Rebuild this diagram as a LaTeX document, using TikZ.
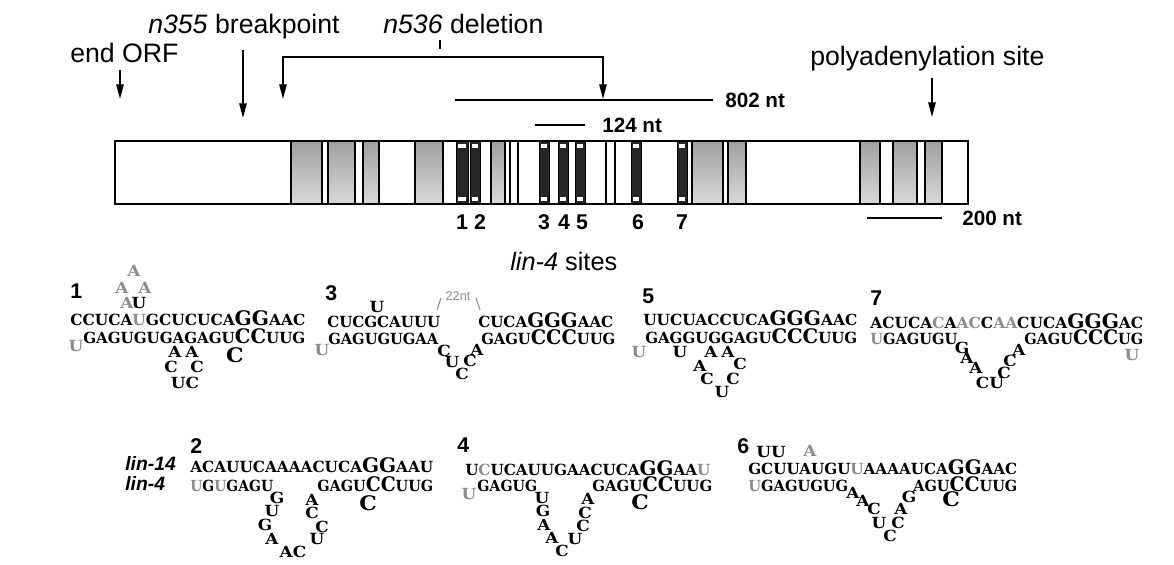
\documentclass[tikz,border=0pt]{standalone}
\usepackage{fontspec}
\usepackage{graphicx}
\setmainfont{Liberation Sans}
\newfontfamily\seqfont{DejaVu Serif}[FakeStretch=1.1]
\usetikzlibrary{arrows.meta}
\definecolor{seqgray}{gray}{0.55}
\newcommand\Lg[1]{{\fontsize{15}{15}\selectfont #1}}
\newcommand\gy[1]{\textcolor{seqgray}{#1}}
% fit a strand to a given width in px (1px = 0.75pt)
\newcommand\fw[2]{\resizebox{#1\dimexpr 0.75pt\relax}{\height}{#2}}
\tikzset{
  lbl/.style={inner sep=0, anchor=base west, font=\fontsize{20}{22}\selectfont},
  bnum/.style={inner sep=0, anchor=base, font=\bfseries\fontsize{16}{18}\selectfont},
  sitelbl/.style={inner sep=0, anchor=base west, font=\bfseries\fontsize{16}{18}\selectfont},
  ntlbl/.style={inner sep=0, anchor=base west, font=\bfseries\fontsize{15.5}{17}\selectfont},
  seq/.style={inner sep=0, anchor=base west, font=\seqfont\bfseries\fontsize{11.5}{13}\selectfont},
  lt/.style={inner sep=0, anchor=center, font=\seqfont\bfseries\fontsize{11.5}{13}\selectfont},
  bigc/.style={lt, font=\seqfont\bfseries\fontsize{15}{15}\selectfont},
  glt/.style={lt, text=seqgray},
  arr/.style={line width=1.3pt, -{Triangle[length=11pt,width=5.5pt]}},
  scalebar/.style={line width=1.6pt},
  shbox/.style={draw=black, line width=0.9pt, top color=gray!75, bottom color=gray!30},
  blbox/.style={draw=black, fill=black!85, line width=0.6pt},
  wmark/.style={fill=white, draw=none},
  thbox/.style={draw=black, fill=white, line width=0.9pt},
}
\begin{document}
\begin{tikzpicture}[x=0.75pt, y=-0.75pt]
\useasboundingbox[fill=white] (0,0) rectangle (1174,564);

% ---------- top labels ----------
\node[lbl] (endorf) at (70,62) {end ORF};
\node[lbl] (n355) at (148,33) {\textit{n355} breakpoint};
\node[lbl] (n536) at (383,33) {\textit{n536} deletion};
\node[lbl] (polya) at (810,65) {polyadenylation site};

\coordinate (eoA) at (120,70);  \coordinate (eoB) at (120,99);
\draw[arr] (eoA) -- (eoB);
\coordinate (bpA) at (243,50);  \coordinate (bpB) at (243,118);
\draw[arr] (bpA) -- (bpB);
\coordinate (paA) at (932,78);  \coordinate (paB) at (932,117);
\draw[arr] (paA) -- (paB);

\coordinate (dl) at (283,99); \coordinate (dm) at (440,57); \coordinate (dr) at (603,99);
\draw[line width=1.3pt, {Triangle[length=11pt,width=5.5pt]}-{Triangle[length=11pt,width=5.5pt]}] (dl) |- (dm) -| (dr);
\coordinate (tkA) at (440,40); \coordinate (tkB) at (440,49);
\draw[line width=1pt] (tkA) -- (tkB);

% scale lines
\coordinate (l802a) at (455,100); \coordinate (l802b) at (713,100);
\draw[scalebar] (l802a) -- (l802b);
\node[ntlbl] (t802) at (725,107) {802 nt};
\coordinate (l124a) at (535,125); \coordinate (l124b) at (585,125);
\draw[scalebar] (l124a) -- (l124b);
\node[ntlbl] (t124) at (602,132) {124 nt};
\coordinate (l200a) at (867,218); \coordinate (l200b) at (942,218);
\draw[scalebar] (l200a) -- (l200b);
\node[ntlbl] (t200) at (962,225) {200 nt};

% ---------- gene bar ----------
\path[fill=white] (115,141) rectangle (968,204);
\foreach \a/\b in {291/322,328/355,363/379,415/443,491/505,692/723,728/746,860/880,893/917,925/942}
  \path[shbox] (\a,141) rectangle (\b,204);
\foreach \a/\b in {510/518,606/615}
  \path[thbox] (\a,141) rectangle (\b,204);
\foreach \a/\b in {456/468,470/480,539/549,558/568,575/585,631/641,677/687}{
  \path[blbox] (\a,141) rectangle (\b,204);
  \path[wmark] (\a+2,144) rectangle (\b-2,148);
  \path[wmark] (\a+2,197) rectangle (\b-2,201);
}
\draw[line width=1.2pt] (115,141) rectangle (968,204);

\node[bnum] (k1) at (462,229) {1};
\node[bnum] (k2) at (480,229) {2};
\node[bnum] (k3) at (544,229) {3};
\node[bnum] (k4) at (564,229) {4};
\node[bnum] (k5) at (582,229) {5};
\node[bnum] (k6) at (638,229) {6};
\node[bnum] (k7) at (682,229) {7};

\node[lbl, font=\fontsize{19}{21}\selectfont] (sites) at (510,270) {\textit{lin-4} sites};

% ---------- site 1 ----------
\node[sitelbl] (s1) at (70,298) {1};
\node[glt] (s1a1) at (134,271) {A};
\node[glt] (s1a2) at (122,288) {A};
\node[glt] (s1a3) at (145,288) {A};
\node[glt] (s1a4) at (127,303) {A};
\node[lt] (s1u) at (139,303) {U};
\node[seq] (s1t) at (70,325) {\fw{235}{CCUCA\gy{U}GCUCUCA\Lg{GG}AAC}};
\node[glt] (s1gu) at (76,346) {U};
\node[seq] (s1b) at (83,343) {\fw{222}{GAGUGUGAGAGU\Lg{CC}UUG}};
\node[lt] (s1b1) at (175,352) {A};
\node[lt] (s1b2) at (192,352) {A};
\node[lt] (s1b3) at (171,367) {C};
\node[lt] (s1b4) at (197,367) {C};
\node[lt] (s1b5) at (185,383) {UC};
\node[bigc] (s1c) at (235,355) {C};

% ---------- site 3 ----------
\node[sitelbl] (s3) at (325,300) {3};
\node[lt] (s3u) at (377,307) {U};
\node[inner sep=0, text=seqgray, font=\fontsize{9.5}{10}\selectfont] (s3n) at (458,296) {22nt};
\coordinate (s3la) at (437,310); \coordinate (s3lb) at (441,298);
\coordinate (s3ra) at (476,298); \coordinate (s3rb) at (480,310);
\draw[seqgray, line width=0.8pt] (s3la) -- (s3lb);
\draw[seqgray, line width=0.8pt] (s3ra) -- (s3rb);
\node[seq] (s3t1) at (327,327) {\fw{113}{CUCGCAUUU}};
\node[seq] (s3t2) at (478,327) {\fw{135}{CUCA\Lg{GGG}AAC}};
\node[glt] (s3gu) at (322,350) {U};
\node[seq] (s3b1) at (328,344) {\fw{110}{GAGUGUGAA}};
\node[lt] (s3l1) at (444,351) {C};
\node[lt] (s3l2) at (452,362) {U};
\node[lt] (s3l3) at (462,374) {C};
\node[lt] (s3l4) at (470,361) {C};
\node[lt] (s3l5) at (477,350) {A};
\node[seq] (s3b2) at (481,344) {\fw{134}{GAGU\Lg{CCC}UUG}};

% ---------- site 5 ----------
\node[sitelbl] (s5) at (642,303) {5};
\node[seq] (s5t) at (643,325) {\fw{214}{UUCUACCUCA\Lg{GGG}AAC}};
\node[glt] (s5gu) at (639,352) {U};
\node[seq] (s5b) at (645,343) {\fw{212}{GAGGUGGAGU\Lg{CCC}UUG}};
\node[lt] (s5l1) at (680,352) {U};
\node[lt] (s5l2) at (711,352) {A};
\node[lt] (s5l3) at (728,352) {A};
\node[lt] (s5l4) at (700,366) {A};
\node[lt] (s5l5) at (740,364) {C};
\node[lt] (s5l6) at (707,379) {C};
\node[lt] (s5l7) at (733,379) {C};
\node[lt] (s5l8) at (722,392) {U};

% ---------- site 7 ----------
\node[sitelbl] (s7) at (870,305) {7};
\node[seq] (s7t) at (870,328) {\fw{273}{ACUCA\gy{C}A\gy{AC}C\gy{AA}CUCA\Lg{GGG}AC}};
\node[seq] (s7b1) at (870,344) {\fw{87}{\gy{U}GAGUGU}};
\node[lt] (s7l1) at (962,348) {G};
\node[lt] (s7l2) at (967,358) {A};
\node[lt] (s7l3) at (976,368) {A};
\node[lt] (s7l4) at (990,383) {CU};
\node[lt] (s7l5) at (1004,373) {C};
\node[lt] (s7l6) at (1010,361) {C};
\node[lt] (s7l7) at (1019,350) {A};
\node[seq] (s7b2) at (1024,344) {\fw{119}{GAGU\Lg{CCC}UG}};
\node[glt] (s7gu) at (1132,355) {U};

% ---------- site 2 ----------
\node[sitelbl] (s2) at (190,453) {2};
\node[inner sep=0, anchor=base west, font=\bfseries\itshape\fontsize{14.5}{16}\selectfont] (l14) at (125,470) {lin-14};
\node[inner sep=0, anchor=base west, font=\bfseries\itshape\fontsize{14.5}{16}\selectfont] (l4) at (125,490) {lin-4};
\node[seq] (s2t) at (190,472) {\fw{243}{ACAUUCAAAACUCA\Lg{GG}AAU}};
\node[seq] (s2b1) at (190,491) {\fw{83}{\gy{U}G\gy{U}GAGU}};
\node[lt] (s2l1) at (277,498) {G};
\node[lt] (s2l2) at (272,511) {U};
\node[lt] (s2l3) at (265,525) {G};
\node[lt] (s2l4) at (272,539) {A};
\node[lt] (s2l5) at (293,552) {AC};
\node[lt] (s2l6) at (317,539) {U};
\node[lt] (s2l7) at (322,527) {C};
\node[lt] (s2l8) at (312,513) {C};
\node[lt] (s2l9) at (312,500) {A};
\node[seq] (s2b2) at (317,491) {\fw{116}{GAGU\Lg{CC}UUG}};
\node[bigc] (s2c) at (368,503) {C};

% ---------- site 4 ----------
\node[sitelbl] (s4) at (457,452) {4};
\node[seq] (s4t) at (465,475) {\fw{245}{U\gy{C}UCAUUGAACUCA\Lg{GG}AA\gy{U}}};
\node[glt] (s4gu) at (469,494) {U};
\node[seq] (s4b1) at (477,491) {\fw{60}{GAGUG}};
\node[lt] (s4l1) at (542,498) {U};
\node[lt] (s4l2) at (543,511) {G};
\node[lt] (s4l3) at (544,525) {A};
\node[lt] (s4l4) at (552,538) {A};
\node[lt] (s4l5) at (562,551) {C};
\node[lt] (s4l6) at (575,539) {U};
\node[lt] (s4l7) at (583,526) {C};
\node[lt] (s4l8) at (585,513) {C};
\node[lt] (s4l9) at (588,499) {A};
\node[seq] (s4b2) at (592,491) {\fw{120}{GAGU\Lg{CC}UUG}};
\node[bigc] (s4c) at (640,502) {C};

% ---------- site 6 ----------
\node[sitelbl] (s6) at (737,453) {6};
\node[lt] (s6uu) at (771,452) {UU};
\node[glt] (s6ga) at (810,451) {A};
\node[seq] (s6t) at (748,474) {\fw{269}{GCUUAUGU\gy{U}AAAAUCA\Lg{GG}AAC}};
\node[seq] (s6b1) at (748,491) {\fw{100}{\gy{U}GAGUGUG}};
\node[lt] (s6l1) at (853,493) {A};
\node[lt] (s6l2) at (863,501) {A};
\node[lt] (s6l3) at (874,509) {C};
\node[lt] (s6l4) at (879,523) {U};
\node[lt] (s6l5) at (890,536) {C};
\node[lt] (s6l6) at (898,523) {C};
\node[lt] (s6l7) at (901,509) {A};
\node[lt] (s6l8) at (909,497) {G};
\node[seq] (s6b2) at (913,491) {\fw{104}{AGU\Lg{CC}UUG}};
\node[bigc] (s6c) at (951,499) {C};
\end{tikzpicture}
\end{document}
